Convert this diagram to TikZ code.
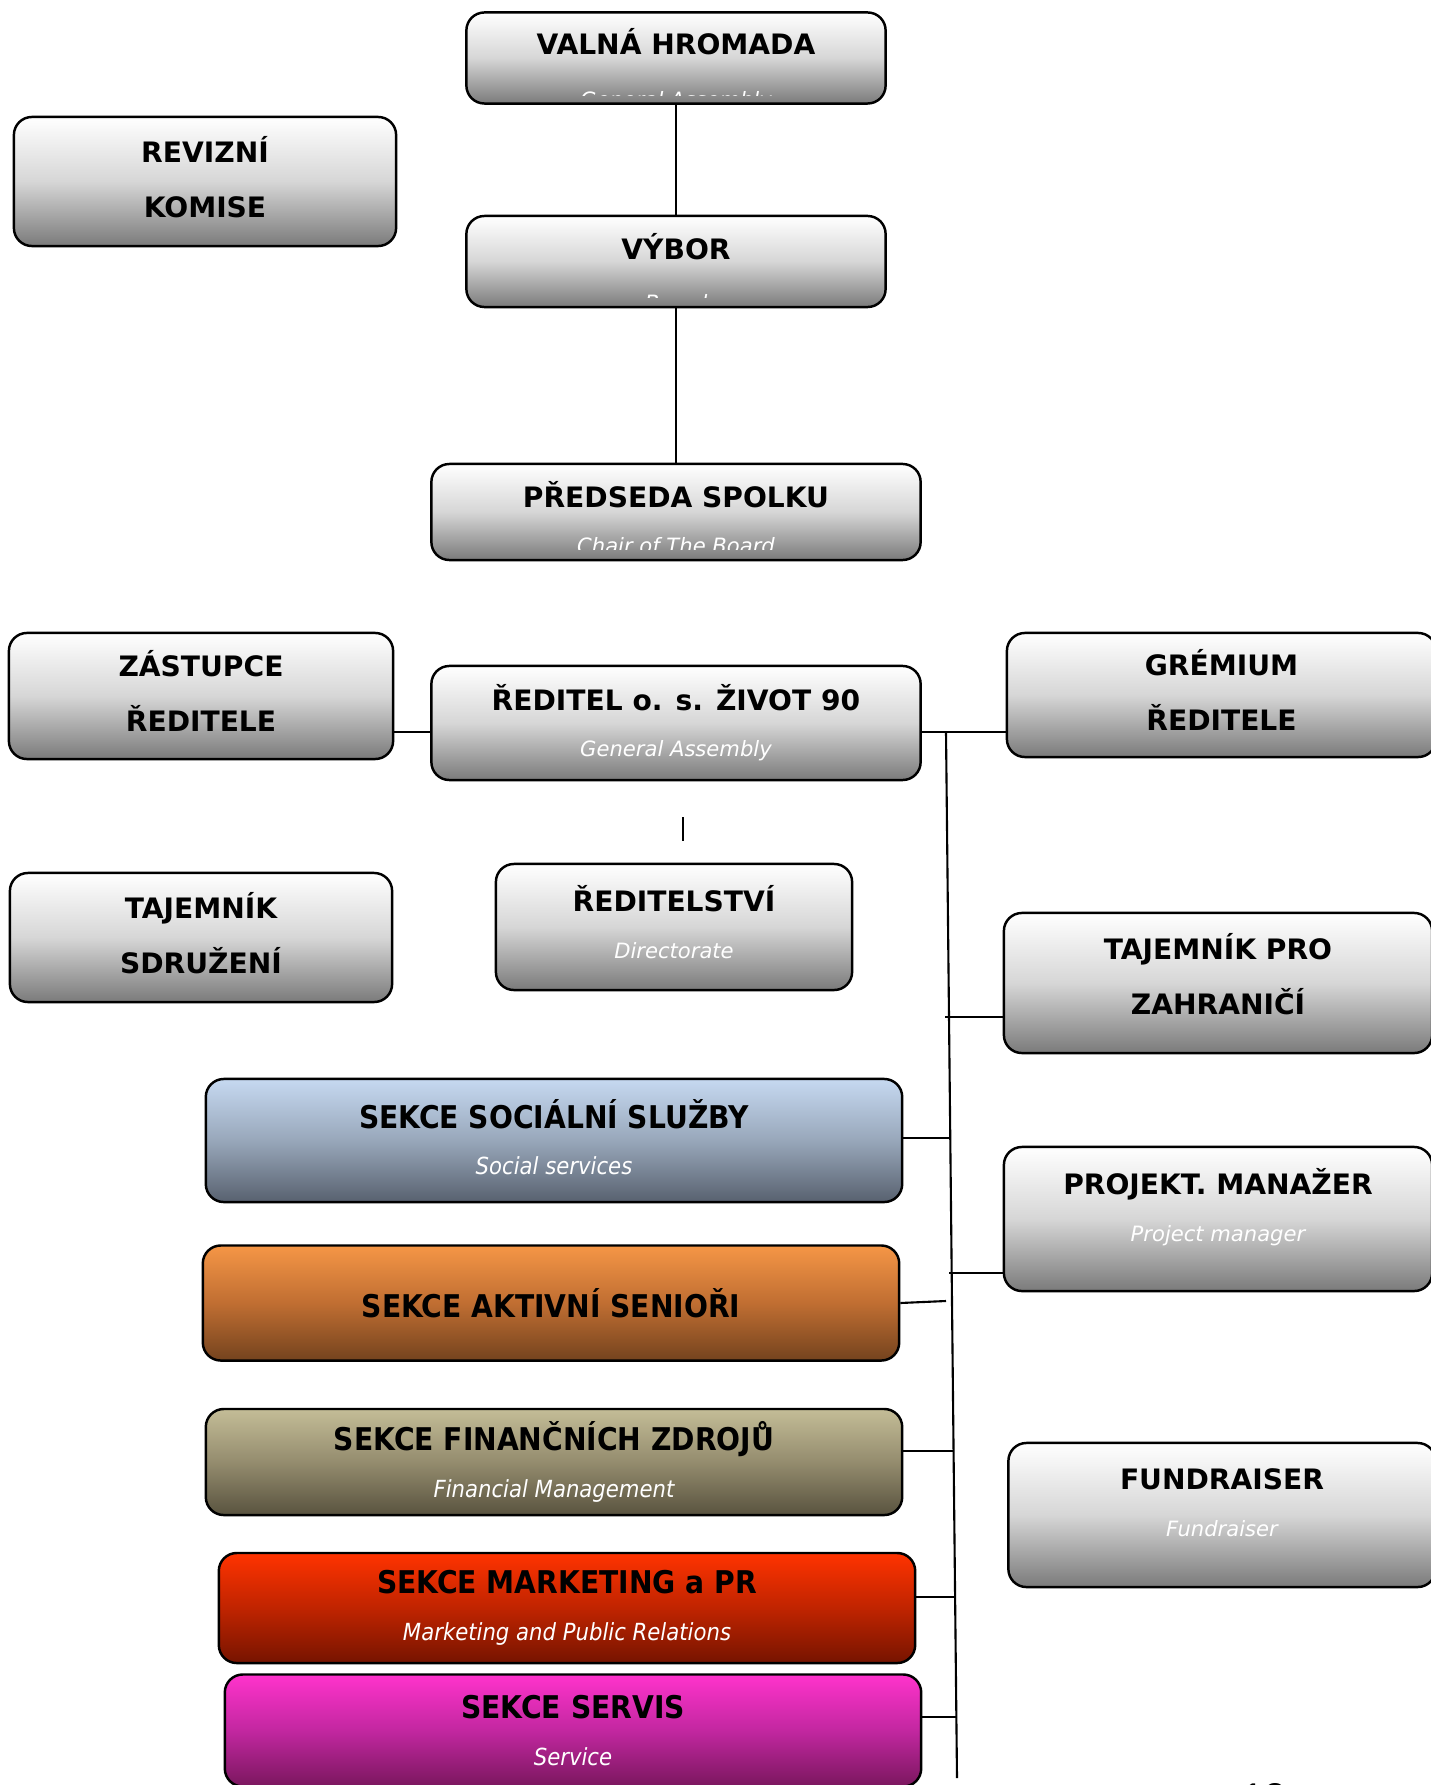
\documentclass[tikz,border=0pt]{standalone}
\usepackage{fontspec}
\setmainfont{DejaVu Sans}
\newfontfamily\condfont{DejaVu Sans}[FakeStretch=0.9]
\newfontfamily\pagefont{Liberation Sans}
\usetikzlibrary{calc}

\definecolor{socTop}{HTML}{C6D9F1}
\definecolor{socMid}{HTML}{98A7BA}
\definecolor{socBot}{HTML}{58616F}
\definecolor{aktTop}{HTML}{F59646}
\definecolor{aktMid}{HTML}{C06E32}
\definecolor{aktBot}{HTML}{74431E}
\definecolor{finTop}{HTML}{C4BD97}
\definecolor{finMid}{HTML}{948C6E}
\definecolor{finBot}{HTML}{59533F}
\definecolor{marTop}{HTML}{FF3300}
\definecolor{marMid}{HTML}{C02400}
\definecolor{marBot}{HTML}{761400}
\definecolor{serTop}{HTML}{FF33CC}
\definecolor{serMid}{HTML}{C227A0}
\definecolor{serBot}{HTML}{7A175E}

\newcommand{\engsub}[1]{{\mdseries\itshape\color{white}\fontsize{6}{8}\selectfont #1}}
\newcommand{\engsubc}[1]{{\mdseries\itshape\color{white}\fontsize{6.7}{8}\selectfont #1}}

\begin{document}
\begin{tikzpicture}[x=0.01cm, y=-0.01cm, line width=0.6pt,
  orgbox/.style={rectangle, rounded corners=0.18cm, draw, line width=0.7pt, align=center, inner sep=0pt,
    top color=white, bottom color=black!52, middle color=black!16, text depth=2.7pt,
    font=\bfseries\fontsize{8}{15.6}\selectfont},
  secbox/.style={rectangle, rounded corners=0.18cm, draw, line width=0.7pt, align=center, inner sep=0pt,
    top color=#1Top, bottom color=#1Bot, middle color=#1Mid,
    font=\condfont\bfseries\fontsize{8.9}{15.6}\selectfont},
  ttl/.style={font=\bfseries\fontsize{8}{15}\selectfont, anchor=base, inner sep=0pt},
  subttl/.style={font=\itshape\fontsize{6}{8}\selectfont, text=white, anchor=base, inner sep=0pt}]
  \useasboundingbox (0,0) rectangle (1431,1785);
  \clip (0,0) rectangle (1431,1785);

  % top of the chart
  \node[orgbox, minimum width=4.19cm, minimum height=0.91cm] (valna) at (676,58) {};
  \node[ttl] (valna-t) at (676,55) {VALNÁ HROMADA};
  \begin{scope}
    \clip (466,12) rectangle (886,96);
    \node[subttl] (valna-s) at (676,108) {General Assembly};
  \end{scope}

  \node[orgbox, minimum width=3.82cm, minimum height=1.29cm] (revize) at (205,181.5) {REVIZNÍ\\KOMISE};

  \node[orgbox, minimum width=4.19cm, minimum height=0.91cm] (vybor) at (676,261.5) {};
  \node[ttl] (vybor-t) at (676,259) {VÝBOR};
  \begin{scope}
    \clip (466,216) rectangle (886,297);
    \node[subttl] (vybor-s) at (676,310) {Board};
  \end{scope}

  \node[orgbox, minimum width=4.89cm, minimum height=0.96cm] (predseda) at (676,512) {};
  \node[ttl] (predseda-t) at (676,507) {PŘEDSEDA SPOLKU};
  \begin{scope}
    \clip (433,464) rectangle (921,549);
    \node[subttl] (predseda-s) at (676,553) {Chair of The Board};
  \end{scope}

  % director level
  \node[orgbox, minimum width=3.84cm, minimum height=1.26cm] (zast) at (201,696) {ZÁSTUPCE\\ŘEDITELE};
  \node[orgbox, minimum width=4.89cm, minimum height=1.14cm, text depth=1.4pt] (redit) at (676,723) {ŘEDITEL o. s. ŽIVOT 90\\[-2.3pt]\engsub{General Assembly}};
  \node[orgbox, minimum width=4.29cm, minimum height=1.24cm] (grem) at (1221.5,695) {GRÉMIUM\\ŘEDITELE};

  \node[orgbox, minimum width=3.82cm, minimum height=1.29cm] (tajs) at (201,937.5) {TAJEMNÍK\\SDRUŽENÍ};
  \node[orgbox, minimum width=3.56cm, minimum height=1.26cm, text depth=2.9pt] (reditelstvi) at (674,927) {ŘEDITELSTVÍ\\[-2.3pt]\engsub{Directorate}};
  \node[orgbox, minimum width=4.28cm, minimum height=1.40cm, text depth=5.1pt] (tajz) at (1218,983) {TAJEMNÍK PRO\\ZAHRANIČÍ};
  \node[orgbox, minimum width=4.28cm, minimum height=1.44cm, text depth=8.2pt] (proj) at (1218,1219) {PROJEKT. MANAŽER\\[-2.3pt]\engsub{Project manager}};
  \node[orgbox, minimum width=4.27cm, minimum height=1.44cm, text depth=7pt] (fund) at (1222,1515) {FUNDRAISER\\[-2.3pt]\engsub{Fundraiser}};

  % sections
  \node[secbox=soc, minimum width=6.96cm, minimum height=1.23cm, text depth=2pt] (soc) at (554,1140.5) {SEKCE SOCIÁLNÍ SLUŽBY\\[-2.3pt]\engsubc{Social services}};
  \node[secbox=akt, minimum width=6.96cm, minimum height=1.15cm] (akt) at (551,1303) {SEKCE AKTIVNÍ SENIOŘI};
  \node[secbox=fin, minimum width=6.96cm, minimum height=1.06cm] (fin) at (554,1462) {SEKCE FINANČNÍCH ZDROJŮ\\[-2.3pt]\engsubc{Financial Management}};
  \node[secbox=mar, minimum width=6.96cm, minimum height=1.10cm] (mark) at (567,1608) {SEKCE MARKETING a PR\\[-2.3pt]\engsubc{Marketing and Public Relations}};
  \node[secbox=ser, minimum width=6.96cm, minimum height=1.12cm] (serv) at (573,1730.5) {SEKCE SERVIS\\[-2.3pt]\engsubc{Service}};

  \node[font=\pagefont\fontsize{11}{13}\selectfont, anchor=base, inner sep=0pt] (pagenum) at (1264,1810) {12};

  % connectors
  \coordinate (jleft) at (393,732);
  \coordinate (jgrem) at (946,732);
  \coordinate (spine-end) at (957,1778);
  \coordinate (jtajz) at (945,1017);
  \coordinate (jsoc) at (950.5,1138);
  \coordinate (jproj) at (949,1273);
  \coordinate (jakt) at (946,1301);
  \coordinate (jfin) at (953.5,1451);
  \coordinate (jmark) at (955,1597);
  \coordinate (jserv) at (956.3,1717);
  \coordinate (tick-top) at (683,817);
  \coordinate (tick-bot) at (683,841);

  \draw (valna.south) -- (vybor.north);
  \draw (vybor.south) -- (predseda.north);
  \draw (zast.east |- jleft) -- (redit.west |- jleft);
  \draw (redit.east |- jgrem) -- (grem.west |- jgrem);
  \draw (jgrem) -- (spine-end);
  \draw (jtajz) -- (jtajz -| tajz.west);
  \draw (soc.east |- jsoc) -- (jsoc);
  \draw (jproj) -- (jproj -| proj.west);
  \draw (akt.east) -- (jakt);
  \draw (fin.east |- jfin) -- (jfin);
  \draw (mark.east |- jmark) -- (jmark);
  \draw (serv.east |- jserv) -- (jserv);
  \draw (tick-top) -- (tick-bot);
\end{tikzpicture}
\end{document}
